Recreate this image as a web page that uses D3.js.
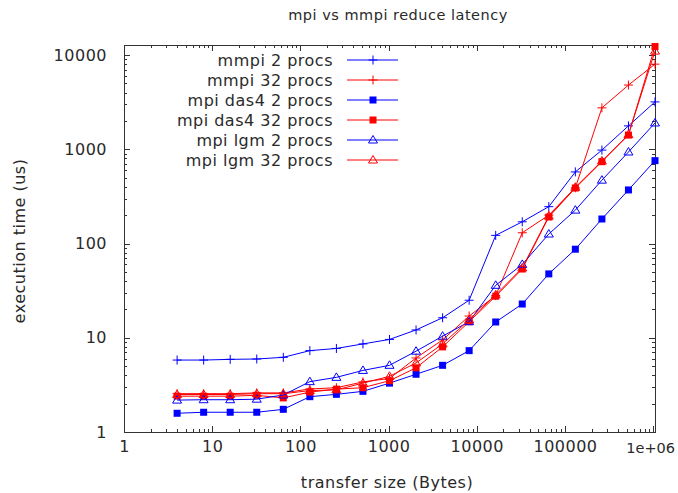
<!DOCTYPE html>
<html>
<head>
<meta charset="utf-8">
<script src="https://cdn.jsdelivr.net/npm/d3@7"></script>
<style>
  body { margin: 0; background: #fff; }
  text { font-family: "DejaVu Sans", sans-serif; fill: #2a2a2a; }
</style>
</head>
<body>
<div id="chart-area"></div>
<script>
// transfer sizes 4 B .. 1 MB
var sizes = [4, 8, 16, 32, 64, 128, 256, 512, 1024, 2048, 4096, 8192, 16384, 32768,
  65536, 131072, 262144, 524288, 1048576]

var mmpi2 = [5.8, 5.8, 5.9, 5.95, 6.2, 7.3, 7.7, 8.6, 9.6, 12.1, 16.3, 25, 122, 170, 246, 575, 980, 1770, 3180]
var mmpi32 = [2.55, 2.55, 2.55, 2.6, 2.6, 2.86, 2.95, 3.4, 3.7, 6.1, 9.5, 17, 28, 130, 200, 390, 2750, 4800, 8000]
var das4_2 = [1.58, 1.62, 1.62, 1.62, 1.74, 2.37, 2.51, 2.7, 3.3, 4.1, 5.1, 7.3, 14.7, 22.8, 47.6, 87, 182, 370, 757]
var das4_32 = [2.4, 2.4, 2.4, 2.45, 2.3, 2.65, 2.85, 2.95, 3.5, 4.8, 8.0, 14.8, 27.6, 53.6, 191, 388, 738, 1415, 12300]
var lgm2 = [2.18, 2.2, 2.2, 2.23, 2.47, 3.42, 3.8, 4.5, 5.1, 7.2, 10.4, 14.8, 36, 60, 126, 226, 470, 935, 1900]
var lgm32 = [2.5, 2.5, 2.5, 2.55, 2.55, 2.75, 2.8, 3.3, 3.9, 5.4, 8.6, 15.5, 28.5, 55, 195, 395, 750, 1430, 11000]

var seriesNames = ["mmpi 2 procs", "mmpi 32 procs", "mpi das4 2 procs", "mpi das4 32 procs",
  "mpi lgm 2 procs", "mpi lgm 32 procs"]
var seriesValues = [mmpi2, mmpi32, das4_2, das4_32, lgm2, lgm32]
var seriesColors = ["#0000ff", "#ff0000", "#0000ff", "#ff0000", "#0000ff", "#ff0000"]
var seriesMarks = ["plus", "plus", "square", "square", "triangle", "triangle"]

var xTicks = [1, 10, 100, 1000, 10000, 100000, 1000000]
var xTickLabels = ["1", "10", "100", "1000", "10000", "100000", "1e+06"]
var yTicks = [1, 10, 100, 1000, 10000]

var width = 678
var height = 493
var box = { left: 124, right: 655, top: 45, bottom: 432 }

var svg = d3.select("#chart-area")
  .append("svg")
  .attr("width", width)
  .attr("height", height)

var x = d3.scaleLog().domain([1, 1048576]).range([box.left, box.right])
var y = d3.scaleLog().domain([1, 12770]).range([box.bottom, box.top])

// minor ticks 2..9 in each decade
var minorX = []
for (var e = 0; e < 7; e++) {
  for (var m = 2; m <= 9; m++) {
    var v = m * Math.pow(10, e)
    if (v < 1048576) minorX.push(v)
  }
}
var minorY = []
for (var e2 = 0; e2 < 5; e2++) {
  for (var m2 = 2; m2 <= 9; m2++) {
    var v2 = m2 * Math.pow(10, e2)
    if (v2 < 12770) minorY.push(v2)
  }
}

var axisColor = "#333"
var ticks = svg.append("g").attr("stroke", axisColor).attr("stroke-width", 1)

function addTicks(list, len, isX) {
  list.forEach((d) => {
    if (isX) {
      var px = Math.round(x(d)) + 0.5
      ticks.append("line").attr("x1", px).attr("x2", px).attr("y1", box.bottom).attr("y2", box.bottom - len)
      ticks.append("line").attr("x1", px).attr("x2", px).attr("y1", box.top).attr("y2", box.top + len)
    } else {
      var py = Math.round(y(d)) + 0.5
      ticks.append("line").attr("x1", box.left).attr("x2", box.left + len).attr("y1", py).attr("y2", py)
      ticks.append("line").attr("x1", box.right).attr("x2", box.right - len).attr("y1", py).attr("y2", py)
    }
  })
}
addTicks(minorX, 3, true)
addTicks(minorY, 3, false)
addTicks(xTicks, 6, true)
addTicks(yTicks, 6, false)

svg.append("rect")
  .attr("x", box.left + 0.5).attr("y", box.top + 0.5)
  .attr("width", box.right - box.left).attr("height", box.bottom - box.top)
  .attr("fill", "none").attr("stroke", axisColor).attr("stroke-width", 1)

// axes labels via d3 axes (ticks hidden, only text)
var xAxis = d3.axisBottom(x).tickValues(xTicks)
  .tickFormat((d, i) => xTickLabels[i]).tickSize(0).tickPadding(0)
var xg = svg.append("g").attr("transform", "translate(0," + (box.bottom + 9) + ")").call(xAxis)
xg.select(".domain").remove()
xg.selectAll("text").attr("font-size", "16px").attr("fill", "#2a2a2a")
  .attr("letter-spacing", "0.5px")
  .attr("font-family", "DejaVu Sans, sans-serif")
// the last label sits at the right edge; a bit smaller so it stays inside
xg.selectAll("text").filter((d, i) => i == xTicks.length - 1)
  .attr("letter-spacing", null)
  .attr("font-size", "14.5px")
  .attr("dy", "0.86em")
  .attr("x", -3)

var yAxis = d3.axisLeft(y).tickValues(yTicks).tickFormat(d3.format("d")).tickSize(0).tickPadding(17)
var yg = svg.append("g").attr("transform", "translate(" + box.left + ",0)").call(yAxis)
yg.select(".domain").remove()
yg.selectAll("text").attr("font-size", "16px").attr("fill", "#2a2a2a")
  .attr("letter-spacing", "0.5px")
  .attr("font-family", "DejaVu Sans, sans-serif")

svg.append("text")
  .attr("x", 398).attr("y", 20)
  .attr("text-anchor", "middle").attr("font-size", "14.5px")
  .attr("letter-spacing", "0.5px")
  .text("mpi vs mmpi reduce latency")

svg.append("text")
  .attr("x", 387).attr("y", 488)
  .attr("text-anchor", "middle").attr("font-size", "16px")
  .attr("letter-spacing", "0.5px")
  .text("transfer size (Bytes)")

svg.append("text")
  .attr("transform", "translate(25, 241) rotate(-90)")
  .attr("text-anchor", "middle").attr("font-size", "16px")
  .attr("letter-spacing", "0.5px")
  .text("execution time (us)")

function drawMark(g, type, cx, cy, color) {
  if (type == "plus") {
    g.append("path")
      .attr("d", "M" + (cx - 4.5) + "," + cy + "H" + (cx + 4.5) + "M" + cx + "," + (cy - 4.5) + "V" + (cy + 4.5))
      .attr("stroke", color).attr("stroke-width", 1).attr("fill", "none")
  } else if (type == "square") {
    g.append("rect")
      .attr("x", cx - 3.5).attr("y", cy - 3.5).attr("width", 7).attr("height", 7)
      .attr("fill", color)
  } else {
    g.append("path")
      .attr("d", "M" + cx + "," + (cy - 4.5) + "L" + (cx + 4.5) + "," + (cy + 3) + "L" + (cx - 4.5) + "," + (cy + 3) + "Z")
      .attr("stroke", color).attr("stroke-width", 1).attr("fill", "none")
  }
}

var line = d3.line()
  .x((d) => x(d[0]))
  .y((d) => y(d[1]))

var plot = svg.append("g")
seriesValues.forEach((vals, i) => {
  var pts = sizes.map((s, j) => [s, vals[j]])
  var g = plot.append("g")
  g.append("path")
    .attr("d", line(pts))
    .attr("fill", "none")
    .attr("stroke", seriesColors[i])
    .attr("stroke-width", 1)
  pts.forEach((p) => drawMark(g, seriesMarks[i], x(p[0]), y(p[1]), seriesColors[i]))
})

// legend
var legend = svg.append("g")
seriesNames.forEach((name, i) => {
  var ly = 60 + i * 20
  legend.append("text")
    .attr("x", 333).attr("y", ly + 5.5)
    .attr("text-anchor", "end").attr("font-size", "16px")
    .attr("letter-spacing", "0.5px")
    .text(name)
  legend.append("line")
    .attr("x1", 347).attr("x2", 398).attr("y1", ly).attr("y2", ly)
    .attr("stroke", seriesColors[i]).attr("stroke-width", 1)
  drawMark(legend, seriesMarks[i], 373, ly, seriesColors[i])
})
</script>
</body>
</html>
